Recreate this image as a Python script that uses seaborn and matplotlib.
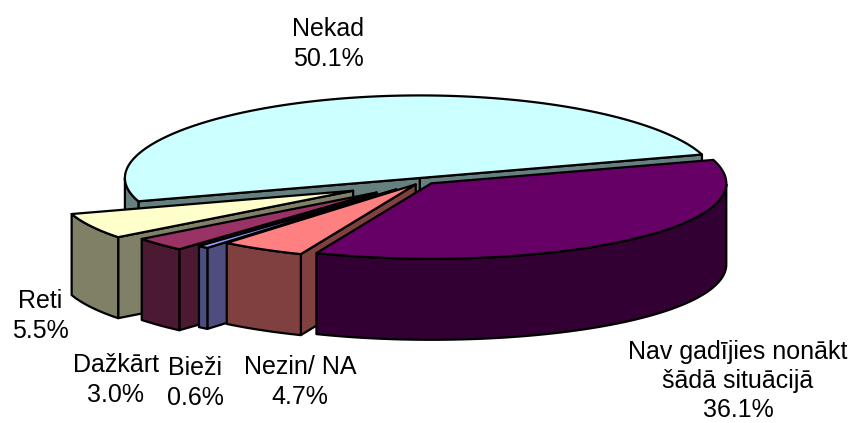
import numpy as np
import matplotlib
matplotlib.use("Agg")
import matplotlib.pyplot as plt
import seaborn as sns

# Data
labels = ["Nekad", "Nav gadījies nonākt\nšādā situācijā", "Nezin/ NA", "Bieži", "Dažkārt", "Reti"]
shares = [50.1, 36.1, 4.7, 0.6, 3.0, 5.5]

# Style
explode = [0.04, 0.04, 0.05, 0.14, 0.215, 0.268]
top_colors = ["#CCFFFF", "#660066", "#FF8080", "#9999FF", "#993366", "#FFFFCC"]
wall_colors = ["#668080", "#330033", "#804040", "#4D4D80", "#4C1933", "#808066"]
label_pos = [(328, 44), (738, 381), (300, 382), (195, 383), (116, 380), (40, 316)]
draw_order = [0, 5, 4, 3, 2, 1]

cx, cy = 423.4, 181
rx, ry = 295, 79
tilt = 0.045  # back of the pie a bit deeper than the front
depth = 81
first_angle = 197.4

sns.set_theme(style="white")
plt.rcParams['font.family'] = ['Liberation Sans', 'DejaVu Sans']

fig, ax = plt.subplots(figsize=(8.52, 4.23), dpi=100)
fig.subplots_adjust(0, 0, 1, 1)
ax.set_xlim(0, 852)
ax.set_ylim(423, 0)
ax.axis("off")

# Angles of each slice, running clockwise from the first one
ends = first_angle - 360 * np.cumsum(shares) / np.sum(shares)
starts = np.r_[first_angle, ends[:-1]]


def point(ax0, ay0, deg):
    a = np.radians(deg)
    return ax0 + rx * np.cos(a), ay0 - ry * (1 + tilt * np.sin(a)) * np.sin(a)


def face(xs, ys, color, z):
    ax.fill(xs, ys, facecolor=color, edgecolor="black", linewidth=1.6, joinstyle="round", zorder=z)


z = 1
for i in draw_order:
    hi, lo = starts[i], ends[i]
    mid = (hi + lo) / 2
    # exploded apex
    ox = cx + explode[i] * rx * np.cos(np.radians(mid))
    oy = cy - explode[i] * ry * np.sin(np.radians(mid))

    # straight cut walls, only those turned towards the viewer
    for edge, normal in [(hi, hi + 90), (lo, lo - 90)]:
        if np.sin(np.radians(normal)) < 0:
            ex, ey = point(ox, oy, edge)
            face([ox, ex, ex, ox], [oy, ey, ey + depth, oy + depth], wall_colors[i], z)
            z += 1

    # outer wall, the part of the arc that faces the front
    grid = np.linspace(lo, hi, 200)
    front = grid[np.sin(np.radians(grid)) <= 0]
    if len(front) > 1:
        ax_, ay_ = point(ox, oy, front)
        face(np.r_[ax_, ax_[::-1]], np.r_[ay_, ay_[::-1] + depth], wall_colors[i], z)
        z += 1

    # top
    tx, ty = point(ox, oy, grid)
    face(np.r_[ox, tx], np.r_[oy, ty], top_colors[i], z)
    z += 1

for i in range(len(labels)):
    ax.text(label_pos[i][0], label_pos[i][1], f"{labels[i]}\n{shares[i]:.1f}%",
            ha="center", va="center", fontsize=18, color="black", linespacing=1.27, zorder=z)

fig.savefig("out.png", dpi=100, facecolor="white")
